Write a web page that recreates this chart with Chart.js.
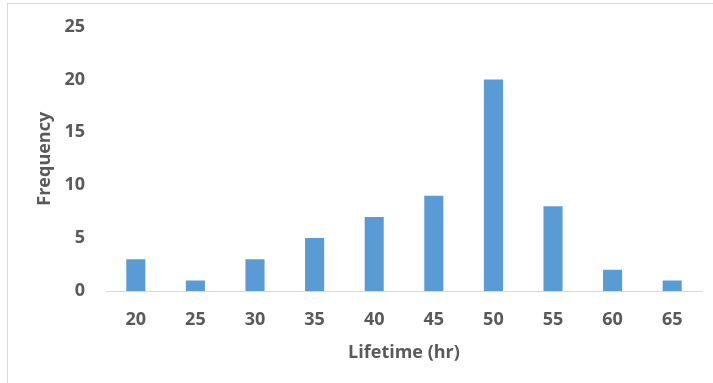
<!DOCTYPE html>
<html>
<head>
<meta charset="utf-8">
<script src="https://cdn.jsdelivr.net/npm/chart.js@4"></script>
<style>
  html, body { margin: 0; padding: 0; background: #ffffff; }
  #wrap { position: relative; width: 713px; height: 383px; }
  #frame { position: absolute; left: 7px; top: 3px; right: 0; bottom: 0;
           border-top: 1px solid #d9d9d9; border-left: 1px solid #d9d9d9;
           pointer-events: none; }
  canvas { position: absolute; left: 0; top: 0; }
</style>
</head>
<body>
<div id="wrap">
  <canvas id="chart" width="713" height="383"></canvas>
  <div id="frame"></div>
</div>
<script>
// Lifetime bins (hours) and how many units fell in each
const lifetimes = ['20', '25', '30', '35', '40', '45', '50', '55', '60', '65'];
const frequencies = [3, 1, 3, 5, 7, 9, 20, 8, 2, 1];
const yTicks = [0, 5, 10, 15, 20, 25];

const textColor = '#595959';
const tickFont = { family: '"Open Sans", sans-serif', size: 18, weight: 'bold' };

new Chart(document.getElementById('chart'), {
  type: 'bar',
  data: {
    labels: lifetimes,
    datasets: [{
      data: frequencies,
      backgroundColor: '#5b9bd5',
      borderWidth: 0,
      categoryPercentage: 1,
      barPercentage: 0.32
    }]
  },
  options: {
    responsive: false,
    animation: false,
    events: [],
    layout: { padding: { left: 0, right: 11, top: 26.5, bottom: 0 } },
    plugins: { legend: { display: false }, tooltip: { enabled: false } },
    scales: {
      x: {
        grid: { display: false, drawTicks: false },
        border: { display: true, color: '#d9d9d9', width: 1 },
        ticks: { color: textColor, font: tickFont, padding: 18, maxRotation: 0 },
        title: { display: true, text: 'Lifetime (hr)', color: textColor,
                 font: tickFont, padding: { top: 4, bottom: 19 } },
        afterFit: (s) => { s.height = 92; }
      },
      y: {
        min: yTicks[0],
        max: yTicks[yTicks.length - 1],
        afterBuildTicks: (s) => { s.ticks = yTicks.map(v => ({ value: v })); },
        grid: { display: false, drawTicks: false },
        border: { display: false },
        ticks: { color: textColor, font: tickFont, padding: 21 },
        title: { display: true, text: 'Frequency', color: textColor,
                 font: tickFont, padding: { top: 34, bottom: 0 } },
        afterFit: (s) => { s.width = 106; s.paddingTop = 0; s.paddingBottom = 0; }
      }
    }
  }
});
</script>
</body>
</html>
